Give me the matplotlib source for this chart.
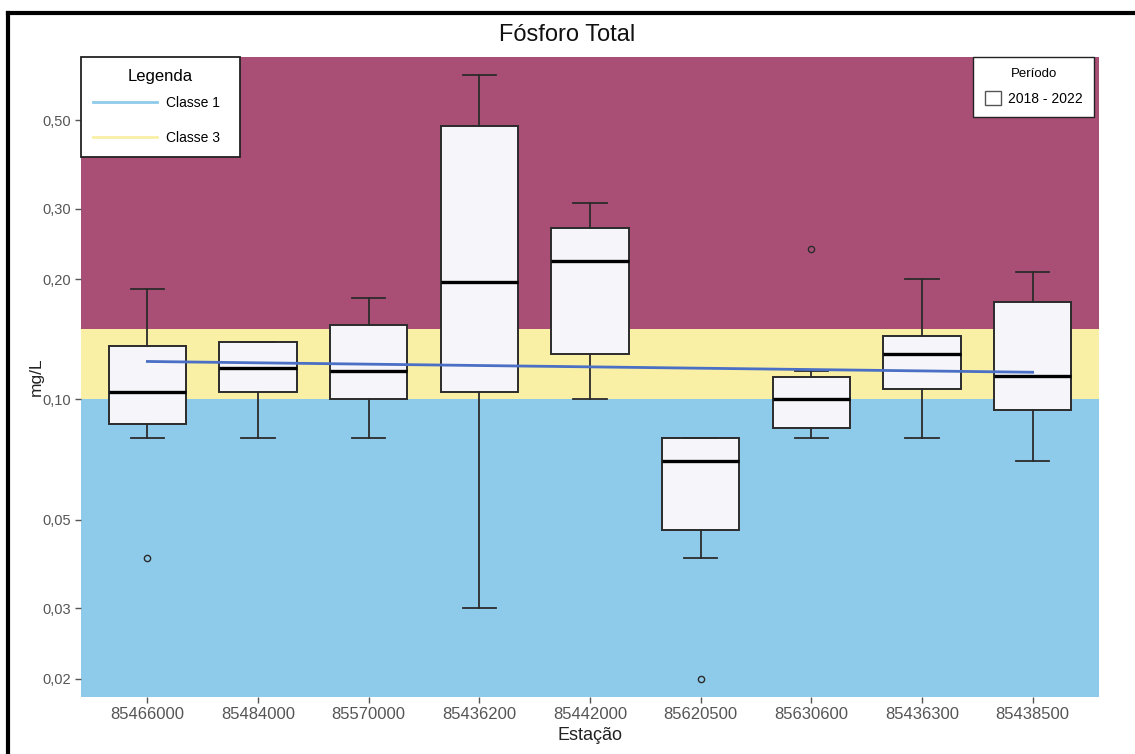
import matplotlib.pyplot as plt
from matplotlib.lines import Line2D
from matplotlib.patches import Patch
from matplotlib.ticker import FixedLocator, NullLocator

plt.rcParams['font.family'] = ['Liberation Sans', 'DejaVu Sans']

# Estações e estatísticas do boxplot (mg/L)
estacoes = ['85466000', '85484000', '85570000', '85436200', '85442000',
            '85620500', '85630600', '85436300', '85438500']
wlo = [0.080, 0.080, 0.080, 0.030, 0.100, 0.040, 0.080, 0.080, 0.070]
q1 = [0.087, 0.1045, 0.100, 0.1045, 0.130, 0.047, 0.085, 0.1065, 0.094]
med = [0.1045, 0.120, 0.118, 0.197, 0.222, 0.070, 0.100, 0.130, 0.1146]
q3 = [0.136, 0.139, 0.154, 0.483, 0.269, 0.080, 0.114, 0.144, 0.175]
whi = [0.189, 0.139, 0.180, 0.648, 0.310, 0.080, 0.118, 0.200, 0.209]
outliers = [[0.040], [], [], [], [], [0.020], [0.238], [], []]

# linha de tendência (primeira e última estação)
tendencia = [0.1245, 0.117]

# limites das classes
classe1 = 0.10
classe3 = 0.15

yticks = [0.02, 0.03, 0.05, 0.10, 0.20, 0.30, 0.50]
ytick_labels = ['0,02', '0,03', '0,05', '0,10', '0,20', '0,30', '0,50']

c_azul = '#8ecbea'
c_amarelo = '#f9f0a6'
c_vinho = '#a94f75'

fig = plt.figure(figsize=(11.35, 7.54), dpi=100)
ax = fig.add_axes([81 / 1135, 57 / 754, 1018 / 1135, 640 / 754])

ax.set_yscale('log')
ymin, ymax = 0.018, 0.72
ax.set_ylim(ymin, ymax)
ax.set_xlim(0.4, 9.6)

ax.axhspan(ymin, classe1, color=c_azul, lw=0, zorder=0)
ax.axhspan(classe1, classe3, color=c_amarelo, lw=0, zorder=0)
ax.axhspan(classe3, ymax, color=c_vinho, lw=0, zorder=0)

stats = []
for i, nome in enumerate(estacoes):
    stats.append(dict(label=nome, whislo=wlo[i], q1=q1[i], med=med[i],
                      q3=q3[i], whishi=whi[i], fliers=outliers[i]))

pos = list(range(1, len(estacoes) + 1))
ax.bxp(stats, positions=pos, widths=0.7, patch_artist=True,
       boxprops=dict(facecolor='#f5f5fa', edgecolor='#2b2b2b', linewidth=1.4),
       medianprops=dict(color='black', linewidth=2.4),
       whiskerprops=dict(color='#2b2b2b', linewidth=1.3),
       capprops=dict(color='#2b2b2b', linewidth=1.3),
       capwidths=0.3,
       flierprops=dict(marker='o', markersize=4.5, markerfacecolor='none',
                       markeredgecolor='#2b2b2b', markeredgewidth=1.0),
       zorder=3)

ax.plot([pos[0], pos[-1]], tendencia, color='#4a6fc4', linewidth=2, zorder=4)

ax.yaxis.set_major_locator(FixedLocator(yticks))
ax.yaxis.set_minor_locator(NullLocator())
ax.set_yticks(yticks)
ax.set_yticklabels(ytick_labels)
ax.set_xticks(pos)
ax.set_xticklabels(estacoes)
ax.tick_params(axis='both', colors='#555555', labelcolor='#555555',
               length=4, width=1, labelsize=10.5)
ax.tick_params(axis='x', labelsize=12)
for s in ax.spines.values():
    s.set_visible(False)

ax.set_xlabel('Estação', fontsize=13, color='#222222', labelpad=3)
ax.set_ylabel('mg/L', fontsize=12.5, color='#222222', labelpad=-1)

fig.text(0.5, 1 - 35 / 754, 'Fósforo Total', ha='center', va='center',
         fontsize=17, color='#111111')

# legenda das classes
h_classes = [Line2D([], [], color=c_azul, lw=2),
             Line2D([], [], color=c_amarelo, lw=2)]
leg1 = ax.legend(h_classes, ['Classe 1  ', 'Classe 3  '], title='Legenda',
                 loc='upper left', bbox_to_anchor=(0, 1), borderaxespad=0,
                 fontsize=10, title_fontsize=12, handlelength=4.6,
                 labelspacing=1.5, borderpad=0.85, handletextpad=0.7,
                 fancybox=False, framealpha=1, edgecolor='#222222')
leg1.get_frame().set_linewidth(1.3)
leg1._legend_box.sep = 9
leg1.set_zorder(5)
ax.add_artist(leg1)

# legenda do período
leg2 = ax.legend([Patch(facecolor='white', edgecolor='#555555')],
                 ['2018 - 2022'], title='Período', loc='upper right',
                 bbox_to_anchor=(1013 / 1018, 1), borderaxespad=0,
                 fontsize=10, title_fontsize=9.5, handlelength=1.2,
                 handleheight=1.1, handletextpad=0.5, borderpad=0.8,
                 fancybox=False, framealpha=1, edgecolor='#222222')
leg2.get_frame().set_linewidth(1.0)
leg2._legend_box.sep = 8
leg2.set_zorder(5)

# moldura externa
fig.add_artist(Line2D([8 / 1135, 1], [1 - 13 / 754, 1 - 13 / 754],
                      color='black', lw=3, transform=fig.transFigure))
fig.add_artist(Line2D([8 / 1135, 8 / 1135], [0, 1 - 13 / 754],
                      color='black', lw=3, transform=fig.transFigure))

fig.savefig('out.png', dpi=100)
